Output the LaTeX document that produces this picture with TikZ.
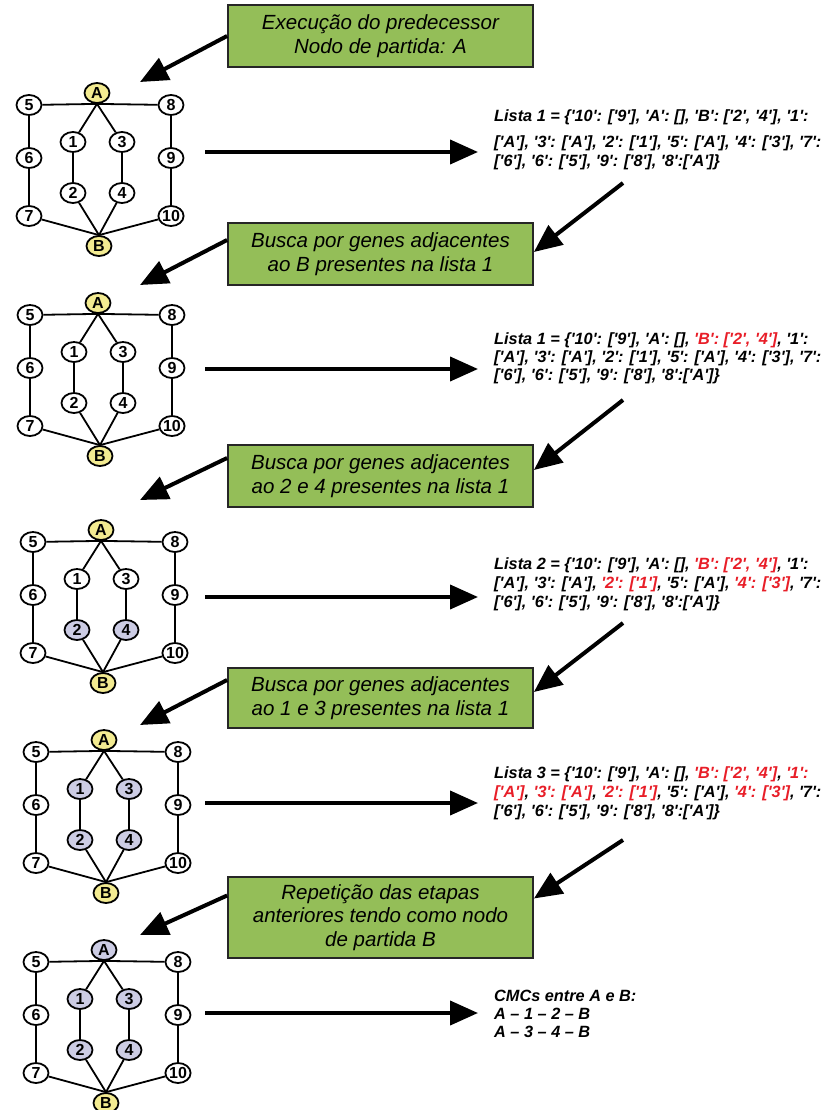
\documentclass[tikz,border=0pt]{standalone}
\usepackage{fontspec}
\setmainfont{Liberation Sans}
\usetikzlibrary{arrows.meta,shapes.geometric}

\definecolor{boxgreen}{RGB}{148,190,88}
\definecolor{startyellow}{RGB}{243,235,145}
\definecolor{visitlilac}{RGB}{204,204,228}
\definecolor{listred}{RGB}{232,30,40}

% straight single quotes around a key or value
\newcommand{\tq}{\textquotesingle}
\newcommand{\qk}[1]{\tq#1\tq}
\newcommand{\hl}[1]{\textcolor{listred}{#1}}

\tikzset{
  gene/.style={ellipse, draw=black, line width=1.8pt, fill=white,
    minimum width=25pt, minimum height=20pt, inner sep=0pt,
    font=\bfseries\fontsize{16}{16}\selectfont},
  edge/.style={line width=1.8pt},
  stepnote/.style={draw=black!85, line width=1.8pt, fill=boxgreen,
    minimum width=305pt, minimum height=62pt, align=center,
    font=\itshape\fontsize{20.5}{23.5}\selectfont},
  listline/.style={anchor=base west, inner sep=0pt,
    font=\bfseries\itshape\fontsize{16.3}{18}\selectfont},
  bigarrow/.style={line width=4pt, -{Triangle[length=28pt,width=24pt]}},
}

% gene graph: #1 prefix, #2 position of A, #3 style of A, #4 style of B,
% #5 style of genes 1 and 3, #6 style of genes 2 and 4
\newcommand{\genegraph}[6]{%
  \begin{scope}[shift={#2}]
    \node[gene,#3] (#1A)   at (0,0)     {A};
    \node[gene]    (#1n5)  at (-68,12)  {5};
    \node[gene]    (#1n8)  at (74,12)   {8};
    \node[gene,#5] (#1n1)  at (-24,49)  {1};
    \node[gene,#5] (#1n3)  at (25,49)   {3};
    \node[gene]    (#1n6)  at (-68,65)  {6};
    \node[gene]    (#1n9)  at (74,65)   {9};
    \node[gene,#6] (#1n2)  at (-24,100) {2};
    \node[gene,#6] (#1n4)  at (25,100)  {4};
    \node[gene]    (#1n7)  at (-68,123) {7};
    \node[gene]    (#1n10) at (74,123)  {10};
    \node[gene,#4] (#1B)   at (2,153)   {B};
    \draw[edge] (#1n5) -- (#1A.south) -- (#1n8);
    \draw[edge] (#1n1) -- (#1A.south) -- (#1n3);
    \draw[edge] (#1n5) -- (#1n6) -- (#1n7);
    \draw[edge] (#1n8) -- (#1n9) -- (#1n10);
    \draw[edge] (#1n1) -- (#1n2);
    \draw[edge] (#1n3) -- (#1n4);
    \draw[edge] (#1n7) -- (#1B.north) -- (#1n10);
    \draw[edge] (#1n2) -- (#1B.north) -- (#1n4);
  \end{scope}}

\begin{document}
\begin{tikzpicture}[x=1pt,y=-1pt]
\useasboundingbox (0,0) rectangle (826,1110);

% graphs
\genegraph{ga}{(97,93)}{fill=startyellow}{fill=startyellow}{}{}
\genegraph{gb}{(98,303)}{fill=startyellow}{fill=startyellow}{}{}
\genegraph{gc}{(101,530)}{fill=startyellow}{fill=startyellow}{}{fill=visitlilac}
\genegraph{gd}{(104,740)}{fill=startyellow}{fill=startyellow}{fill=visitlilac}{fill=visitlilac}
\genegraph{ge}{(104,950)}{fill=visitlilac}{fill=startyellow}{fill=visitlilac}{fill=visitlilac}

% step boxes
\node[stepnote] (box1) at (380.5,36) {Execução do predecessor\\Nodo de partida: A};
\node[stepnote] (box2) at (380.5,254) {Busca por genes adjacentes\\ao B presentes na lista 1};
\node[stepnote] (box3) at (380.5,476) {Busca por genes adjacentes\\ao 2 e 4 presentes na lista 1};
\node[stepnote, minimum height=60pt] (box4) at (380.5,698) {Busca por genes adjacentes\\ao 1 e 3 presentes na lista 1};
\node[stepnote, minimum height=81pt] (box5) at (380.5,917.5) {Repetição das etapas\\anteriores tendo como nodo\\de partida B};

% arrows from the boxes to the graphs
\coordinate (t1) at (140,82);
\coordinate (t2) at (140,285);
\coordinate (t3) at (140,500);
\coordinate (t4) at (140,725);
\coordinate (t5) at (140,935);
\draw[bigarrow] (box1.west) -- (t1);
\draw[bigarrow] ([yshift=14pt]box2.west) -- (t2);
\draw[bigarrow] ([yshift=18pt]box3.west) -- (t3);
\draw[bigarrow] ([yshift=18pt]box4.west) -- (t4);
\draw[bigarrow] ([yshift=22pt]box5.west) -- (t5);

% arrows from the lists to the boxes
\coordinate (s2) at (623,183);
\coordinate (s3) at (623,400);
\coordinate (s4) at (623,623);
\coordinate (s5) at (623,840);
\draw[bigarrow] (s2) -- ([yshift=2pt]box2.east);
\draw[bigarrow] (s3) -- ([yshift=6pt]box3.east);
\draw[bigarrow] (s4) -- ([yshift=6pt]box4.east);
\draw[bigarrow] (s5) -- ([yshift=19pt]box5.east);

% arrows from the graphs to the lists
\foreach \i/\y in {1/152,2/369,3/597,4/803,5/1013}{
  \coordinate (h\i s) at (205,\y);
  \coordinate (h\i e) at (478,\y);
  \draw[bigarrow] (h\i s) -- (h\i e);
}

% list 1
\node[listline] (la1) at (494,122) {Lista 1 = \{\qk{10}: [\qk{9}], \qk{A}: [], \qk{B}: [\qk{2}, \qk{4}], \qk{1}:};
\node[listline] (la2) at (494,148) {[\qk{A}], \qk{3}: [\qk{A}], \qk{2}: [\qk{1}], \qk{5}: [\qk{A}], \qk{4}: [\qk{3}], \qk{7}:};
\node[listline] (la3) at (494,167) {[\qk{6}], \qk{6}: [\qk{5}], \qk{9}: [\qk{8}], \qk{8}:[\qk{A}]\}};

% list 1, B marked
\node[listline] (lb1) at (494,344) {Lista 1 = \{\qk{10}: [\qk{9}], \qk{A}: [], \hl{\qk{B}: [\qk{2}, \qk{4}]}, \qk{1}:};
\node[listline] (lb2) at (494,362) {[\qk{A}], \qk{3}: [\qk{A}], \qk{2}: [\qk{1}], \qk{5}: [\qk{A}], \qk{4}: [\qk{3}], \qk{7}:};
\node[listline] (lb3) at (494,380) {[\qk{6}], \qk{6}: [\qk{5}], \qk{9}: [\qk{8}], \qk{8}:[\qk{A}]\}};

% list 2
\node[listline] (lc1) at (494,569) {Lista 2 = \{\qk{10}: [\qk{9}], \qk{A}: [], \hl{\qk{B}: [\qk{2}, \qk{4}]}, \qk{1}:};
\node[listline] (lc2) at (494,588) {[\qk{A}], \qk{3}: [\qk{A}], \hl{\qk{2}: [\qk{1}]}, \qk{5}: [\qk{A}], \hl{\qk{4}: [\qk{3}]}, \qk{7}:};
\node[listline] (lc3) at (494,607) {[\qk{6}], \qk{6}: [\qk{5}], \qk{9}: [\qk{8}], \qk{8}:[\qk{A}]\}};

% list 3
\node[listline] (ld1) at (494,778) {Lista 3 = \{\qk{10}: [\qk{9}], \qk{A}: [], \hl{\qk{B}: [\qk{2}, \qk{4}]}, \hl{\qk{1}:}};
\node[listline] (ld2) at (494,797) {\hl{[\qk{A}]}, \hl{\qk{3}: [\qk{A}]}, \hl{\qk{2}: [\qk{1}]}, \qk{5}: [\qk{A}], \hl{\qk{4}: [\qk{3}]}, \qk{7}:};
\node[listline] (ld3) at (494,816) {[\qk{6}], \qk{6}: [\qk{5}], \qk{9}: [\qk{8}], \qk{8}:[\qk{A}]\}};

% result
\node[listline] (le1) at (494,1001) {CMCs entre A e B:};
\node[listline] (le2) at (494,1019) {A – 1 – 2 – B};
\node[listline] (le3) at (494,1037) {A – 3 – 4 – B};
\end{tikzpicture}
\end{document}
